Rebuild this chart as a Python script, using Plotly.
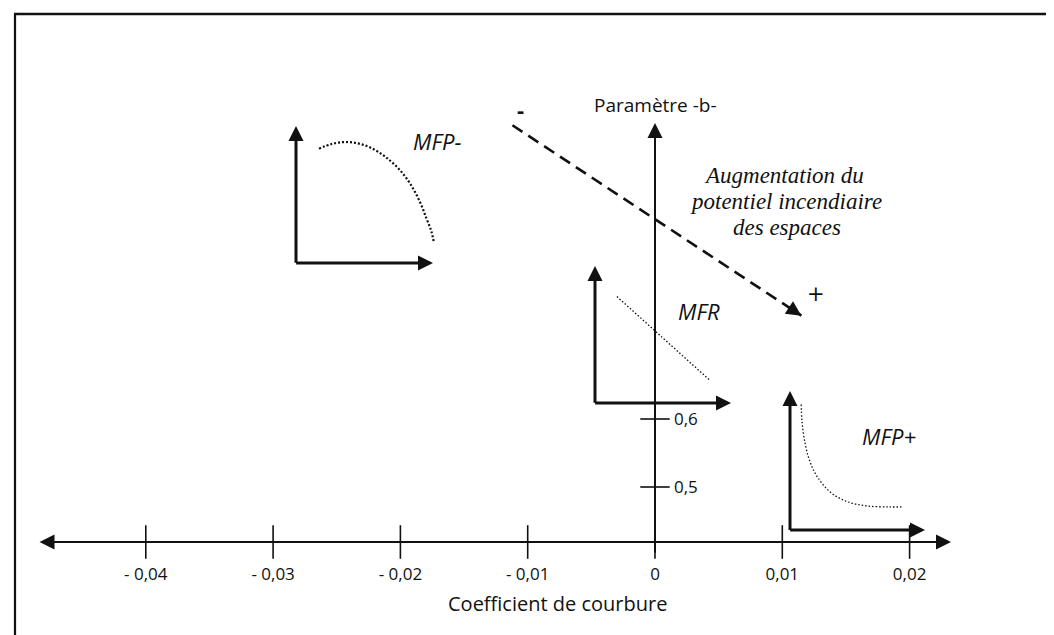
import plotly.graph_objects as go

W, H = 1054, 635

# ---------------- data ----------------
# main axes: curvature coefficient (x) and parameter b (y)
curv_ticks = [-0.04, -0.03, -0.02, -0.01, 0.0, 0.01, 0.02]
curv_labels = ["- 0,04", "- 0,03", "- 0,02", "- 0,01", "0", "0,01", "0,02"]
b_ticks = [0.5, 0.6]
b_labels = ["0,5", "0,6"]

# dashed trend arrow "Augmentation du potentiel incendiaire des espaces"
trend_curv = [-0.0112, 0.0115]
trend_b = [1.032, 0.752]

# schematic insets (normalised units, origin = inset axes corner)
mfp_minus_x = [0.168, 0.258, 0.355, 0.453, 0.550, 0.648, 0.745, 0.830, 0.903, 0.951, 0.988, 1.007]
mfp_minus_y = [0.834, 0.868, 0.883, 0.873, 0.839, 0.778, 0.693, 0.584, 0.450, 0.328, 0.231, 0.146]
mfr_x = [0.161, 0.842]
mfr_y = [0.777, 0.168]
mfp_plus_x = [0.083, 0.088, 0.107, 0.144, 0.204, 0.302, 0.423, 0.569, 0.739, 0.837]
mfp_plus_y = [0.903, 0.794, 0.648, 0.502, 0.380, 0.270, 0.204, 0.173, 0.166, 0.166]

# ---------------- scale setup ----------------
X0_PX, PX_PER_X = 647.0, 12730.0     # x=0 at pixel 647
Y06_PX, PX_PER_Y = 411.0, 680.0      # b=0.6 at pixel 411


def X(px):
    return (px - X0_PX) / PX_PER_X


def Y(py):
    return 0.6 + (Y06_PX - py) / PX_PER_Y


AXIS_B = Y(534)
INK = "#111111"
SANS = "Open Sans, Noto Sans, sans-serif"
SERIF = "Liberation Serif, Times New Roman, serif"

fig = go.Figure()

# tick marks on the main axes
fig.add_trace(go.Scatter(
    x=curv_ticks, y=[AXIS_B] * len(curv_ticks), mode="markers",
    marker=dict(symbol="line-ns", size=24, line=dict(width=1.6, color=INK)),
    hoverinfo="skip", showlegend=False, cliponaxis=False))
fig.add_trace(go.Scatter(
    x=[0.0] * len(b_ticks), y=b_ticks, mode="markers",
    marker=dict(symbol="line-ew", size=21, line=dict(width=1.6, color=INK)),
    hoverinfo="skip", showlegend=False, cliponaxis=False))

# dashed trend line
fig.add_trace(go.Scatter(
    x=trend_curv, y=trend_b, mode="lines",
    line=dict(color=INK, width=2.6, dash="12px,7px"),
    hoverinfo="skip", showlegend=False))

# inset definitions
insets = [
    ("MFP-", 2, (288, 255), 137, 137, mfp_minus_x, mfp_minus_y, 2.2, "2px,2px"),
    ("MFR", 3, (587, 395), 136, 137, mfr_x, mfr_y, 1.3, "1.5px,2px"),
    ("MFP+", 4, (782, 522), 135, 139, mfp_plus_x, mfp_plus_y, 1.3, "1.5px,2px"),
]
LO, HI = -0.15, 1.15

annotations = []
layout_axes = {}
for name, idx, (ox, oy), sx, sy, xs, ys, lw, dash in insets:
    xd = [(ox + LO * sx) / W, (ox + HI * sx) / W]
    yd = [1 - (oy - LO * sy) / H, 1 - (oy - HI * sy) / H]
    layout_axes[f"xaxis{idx}"] = dict(domain=xd, range=[LO, HI], visible=False,
                                      anchor=f"y{idx}", fixedrange=True)
    layout_axes[f"yaxis{idx}"] = dict(domain=yd, range=[LO, HI], visible=False,
                                      anchor=f"x{idx}", fixedrange=True)
    fig.add_trace(go.Scatter(
        x=xs, y=ys, xaxis=f"x{idx}", yaxis=f"y{idx}", mode="lines",
        line=dict(color=INK, width=lw, dash=dash, shape="spline"),
        hoverinfo="skip", showlegend=False))
    for (tx, ty) in [(1.0, 0.0), (0.0, 1.0)]:
        annotations.append(dict(
            x=tx, y=ty, ax=-0.01 if ty == 0 else 0.0, ay=0.0 if ty == 0 else -0.01,
            xref=f"x{idx}", yref=f"y{idx}", axref=f"x{idx}", ayref=f"y{idx}",
            text="", showarrow=True, arrowhead=2, arrowwidth=3, arrowsize=1.0,
            arrowcolor=INK))

# main horizontal axis (double headed) and vertical axis
annotations.append(dict(x=X(943), y=AXIS_B, ax=X(30), ay=AXIS_B, xref="x", yref="y",
                        axref="x", ayref="y", text="", showarrow=True,
                        arrowhead=2, startarrowhead=2, arrowside="end+start",
                        arrowwidth=2, arrowsize=1.5, startarrowsize=1.5, arrowcolor=INK))
annotations.append(dict(x=0.0, y=Y(115), ax=0.0, ay=Y(546), xref="x", yref="y",
                        axref="x", ayref="y", text="", showarrow=True,
                        arrowhead=2, arrowwidth=2, arrowsize=1.5, arrowcolor=INK))

# trend arrow head
tx1, ty1 = trend_curv[-1], trend_b[-1]
frac = 0.05
annotations.append(dict(x=tx1, y=ty1,
                        ax=tx1 - (trend_curv[-1] - trend_curv[0]) * frac,
                        ay=ty1 - (trend_b[-1] - trend_b[0]) * frac,
                        xref="x", yref="y", axref="x", ayref="y", text="",
                        showarrow=True, arrowhead=2, arrowwidth=2.6, arrowsize=1.15,
                        arrowcolor=INK))


def label(text, px, py, size, family=SANS, xanchor="center"):
    annotations.append(dict(x=px / W, y=1 - py / H, xref="paper", yref="paper",
                            text=text, showarrow=False, xanchor=xanchor, yanchor="middle",
                            font=dict(family=family, size=size, color=INK)))


label("Paramètre -b-", 647, 97, 19)
label("Coefficient de courbure", 549, 595, 20)
label("<i>MFP-</i>", 429, 133, 22)
label("<i>MFR</i>", 691, 303, 22)
label("<i>MFP+</i>", 881, 428, 22)
label("<b>-</b>", 512, 101, 22)
label("+", 808, 286, 21, "DejaVu Sans, sans-serif")
label("<i>Augmentation du</i>", 776, 167, 23, SERIF)
label("<i>potentiel incendiaire</i>", 778, 193, 23, SERIF)
label("<i>des espaces</i>", 779, 219, 23, SERIF)

fig.update_layout(
    width=W, height=H,
    margin=dict(l=0, r=0, t=0, b=0),
    paper_bgcolor="white", plot_bgcolor="rgba(0,0,0,0)",
    showlegend=False,
    xaxis=dict(range=[X(0), X(W)], domain=[0, 1], anchor="free",
               position=(H - 534) / H, showgrid=False, zeroline=False, showline=False,
               tickmode="array", tickvals=curv_ticks, ticktext=curv_labels, ticks="",
               tickfont=dict(family=SANS, size=17, color=INK), ticklabelstandoff=20,
               fixedrange=True),
    yaxis=dict(range=[Y(H), Y(0)], domain=[0, 1], anchor="free",
               position=X0_PX / W, side="right", showgrid=False, zeroline=False,
               showline=False, tickmode="array", tickvals=b_ticks, ticktext=b_labels,
               ticks="", tickfont=dict(family=SANS, size=17, color=INK),
               ticklabelstandoff=18, fixedrange=True),
    annotations=annotations,
    shapes=[
        dict(type="line", xref="paper", yref="paper", x0=6 / W, x1=1, y0=1 - 6 / H, y1=1 - 6 / H,
             line=dict(color=INK, width=2.5)),
        dict(type="line", xref="paper", yref="paper", x0=7 / W, x1=7 / W, y0=0, y1=1 - 6 / H,
             line=dict(color=INK, width=2.2)),
    ],
    **layout_axes,
)

fig.write_html("out.html")
